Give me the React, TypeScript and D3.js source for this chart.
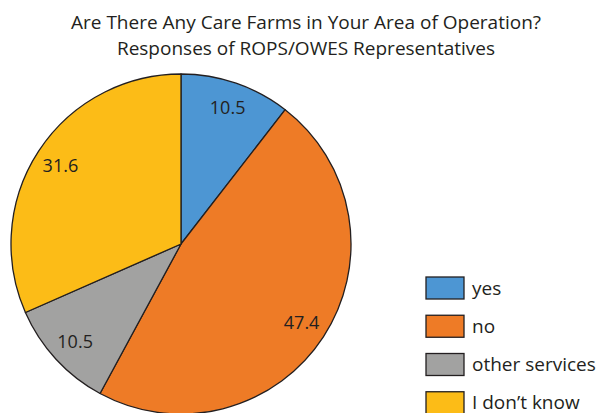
import React from "react";
import * as d3 from "d3";

const categories = ["yes", "no", "other services", "I don\u2019t know"];
const values = [10.5, 47.4, 10.5, 31.6];
const colors = ["#4d96d3", "#ee7b26", "#a2a2a1", "#fcbc17"];
const titleLines = [
  "Are There Any Care Farms in Your Area of Operation?",
  "Responses of ROPS/OWES Representatives",
];

const W = 598;
const H = 413;
const cx = 181;
const cy = 244;
const R = 170;
const labelR = 144;
const font = "'Open Sans', sans-serif";

export default function App() {
  const pie = d3.pie<number>().sort(null).value((d) => d)(values);
  const arc = d3.arc<d3.PieArcDatum<number>>().innerRadius(0).outerRadius(R);
  const labelArc = d3
    .arc<d3.PieArcDatum<number>>()
    .innerRadius(labelR)
    .outerRadius(labelR);
  const legendY = d3
    .scaleBand<number>()
    .domain(d3.range(categories.length))
    .range([277, 430])
    .paddingInner(0);

  return (
    <svg
      width={W}
      height={H}
      style={{ position: "absolute", left: 0, top: 0, background: "#fff" }}
    >
      {titleLines.map((t, i) => (
        <text
          key={i}
          x={306}
          y={29 + i * 26}
          textAnchor="middle"
          fontFamily={font}
          fontSize={19}
          fill="#231f20"
        >
          {t}
        </text>
      ))}
      <g transform={`translate(${cx},${cy})`}>
        {pie.map((p, i) => (
          <path
            key={i}
            d={arc(p) || ""}
            fill={colors[i]}
            stroke="#231f20"
            strokeWidth={1.3}
            strokeLinejoin="round"
          />
        ))}
        {pie.map((p, i) => {
          const [lx, ly] = labelArc.centroid(p);
          return (
            <text
              key={i}
              x={lx}
              y={ly}
              dy="0.36em"
              textAnchor="middle"
              fontFamily={font}
              fontSize={18}
              fill="#231f20"
            >
              {values[i].toFixed(1)}
            </text>
          );
        })}
      </g>
      {categories.map((c, i) => {
        const y = legendY(i) as number;
        return (
          <g key={i}>
            <rect
              x={426}
              y={y}
              width={38}
              height={22}
              fill={colors[i]}
              stroke="#231f20"
              strokeWidth={1.3}
            />
            <text
              x={472}
              y={y + 17.5}
              fontFamily={font}
              fontSize={19}
              fill="#231f20"
            >
              {c}
            </text>
          </g>
        );
      })}
    </svg>
  );
}
